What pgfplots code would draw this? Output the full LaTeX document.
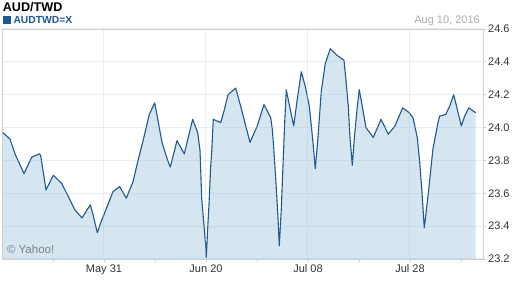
\documentclass[border=0pt]{standalone}
\usepackage{pgfplots}
\pgfplotsset{compat=1.18}
\usepackage{pgfplotstable}
\usepackage{fontspec}
\setmainfont{Liberation Sans}
\definecolor{linec}{HTML}{1F5793}
\definecolor{fillc}{HTML}{D6E6F1}
\definecolor{gridc}{HTML}{A8C4E0}
\definecolor{axc}{HTML}{CFCFCF}
\definecolor{labc}{HTML}{333333}

\pgfplotstableread{
d v
-13.90 23.97
-12.90 23.93
-12.22 23.84
-10.98 23.72
-9.92 23.82
-8.88 23.84
-8.69 23.83
-7.96 23.62
-6.96 23.71
-5.81 23.66
-4.67 23.56
-4.02 23.50
-3.02 23.45
-1.88 23.53
-1.51 23.47
-0.92 23.36
-0.37 23.43
1.24 23.61
2.15 23.64
3.06 23.57
3.98 23.67
4.67 23.80
5.31 23.91
6.22 24.08
6.96 24.15
7.30 24.07
7.96 23.91
8.74 23.80
9.10 23.76
10.02 23.92
11.02 23.84
12.17 24.05
12.86 23.97
13.18 23.86
13.41 23.57
13.77 23.38
13.96 23.28
14.04 23.21
14.27 23.42
14.41 23.53
14.64 23.76
14.82 23.88
15.00 24.05
16.02 24.03
16.47 24.10
17.02 24.20
18.08 24.24
18.76 24.13
20.04 23.91
21.04 24.01
21.96 24.14
22.88 24.06
23.10 23.99
23.29 23.88
23.61 23.66
23.88 23.45
24.06 23.28
24.33 23.50
24.57 23.77
24.80 24.03
25.02 24.23
25.57 24.11
26.04 24.01
26.49 24.16
27.08 24.34
27.63 24.25
28.18 24.13
28.64 23.93
29.00 23.75
29.37 23.94
29.82 24.22
30.37 24.39
31.06 24.48
31.98 24.44
32.94 24.41
33.21 24.29
33.53 24.13
33.76 23.94
34.08 23.77
34.35 23.93
34.77 24.13
35.04 24.23
35.37 24.15
35.96 24.00
36.96 23.94
38.02 24.05
39.02 23.96
39.94 24.01
40.99 24.12
41.90 24.09
42.41 24.06
43.00 23.94
43.33 23.79
43.64 23.61
43.96 23.39
44.10 23.44
44.56 23.62
45.15 23.87
45.84 24.03
46.07 24.07
46.90 24.08
47.45 24.13
48.00 24.20
48.50 24.11
49.04 24.01
49.51 24.07
50.06 24.12
51.02 24.09
}\datatable

\begin{document}
\begin{tikzpicture}
\path[use as bounding box] (0pt,0pt) rectangle (512pt,288pt);
\begin{axis}[
  at={(2pt,29pt)}, anchor=south west,
  scale only axis, width=481pt, height=230pt,
  xmin=-14, xmax=52.02, ymin=23.2, ymax=24.6,
  axis on top,
  axis line style={axc, line width=0.8pt},
  xtick={0,14,28,42},
  xticklabels={May 31, Jun 20, Jul 08, Jul 28},
  minor xtick={-7,7,21,35,49},
  ytick={23.2,23.4,...,24.61},
  xtick pos=bottom, ytick pos=right,
  yticklabel pos=right,
  tick align=outside,
  major tick length=3pt, minor tick length=3pt,
  tick style={axc, line width=0.8pt},
  grid=major,
  major grid style={gridc, opacity=0.3, line width=1pt},
  /pgf/number format/assume math mode=true,
  ticklabel style={font=\fontsize{11}{13}\selectfont, text=labc},
  y tick label style={/pgf/number format/fixed, /pgf/number format/fixed zerofill, /pgf/number format/precision=1, inner sep=2pt},
  x tick label style={inner sep=2.5pt},
]
\addplot[fill=fillc, draw=none] table[x=d, y=v] {\datatable} \closedcycle;
\addplot[linec, line width=1.1pt, line join=round] table[x=d, y=v] {\datatable};
\node[anchor=base west, inner sep=0, text=black!50, font=\fontsize{11.5}{13}\selectfont] at (rel axis cs:0.01,0.025) {© Yahoo!};
\end{axis}
\node[anchor=base west, inner sep=0, font=\bfseries\fontsize{12.6}{14}\selectfont] at (2.7pt,276.3pt) {AUD/TWD};
\fill[linec] (2.7pt,264pt) rectangle (10.7pt,271.5pt);
\node[anchor=base west, inner sep=0, text=linec, font=\bfseries\fontsize{10.3}{12}\selectfont] at (13.3pt,264pt) {AUDTWD=X};
\node[anchor=base east, inner sep=0, text=black!33, font=\fontsize{11}{13}\selectfont] at (480pt,264pt) {Aug 10, 2016};
\end{tikzpicture}
\end{document}
